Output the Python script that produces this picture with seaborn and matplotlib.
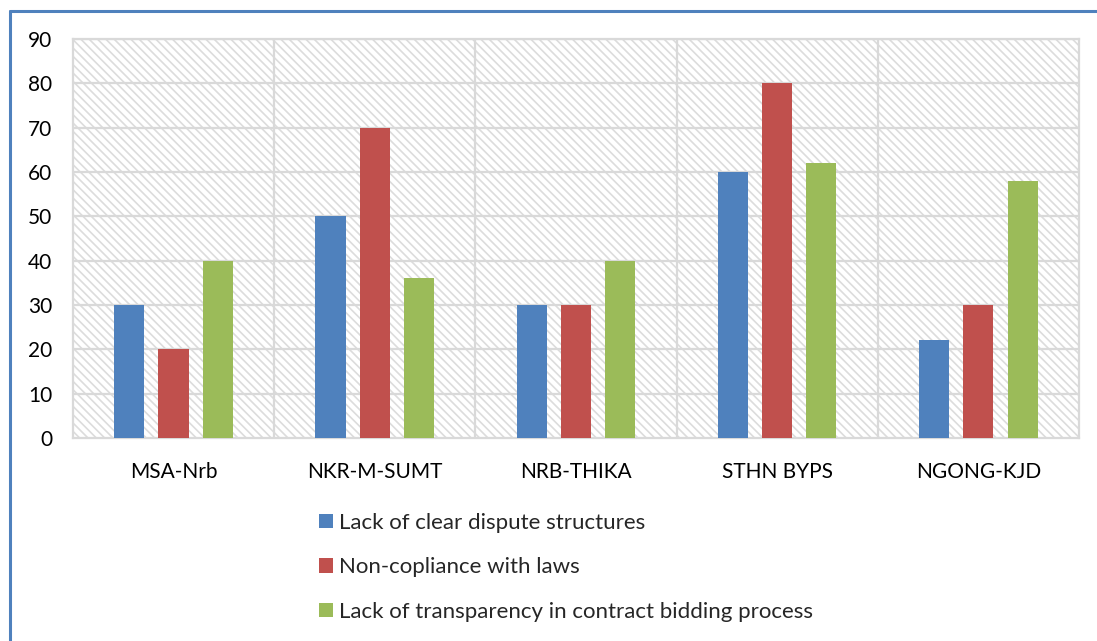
import matplotlib
matplotlib.use("Agg")
import matplotlib.pyplot as plt
from matplotlib.lines import Line2D
from matplotlib.patches import Rectangle
import seaborn as sns
import pandas as pd

routes = ["MSA-Nrb", "NKR-M-SUMT", "NRB-THIKA", "STHN BYPS", "NGONG-KJD"]
dispute_structures = [30, 50, 30, 60, 22]
non_compliance = [20, 70, 30, 80, 30]
bidding_transparency = [40, 36, 40, 62, 58]
series_names = [
    "Lack of clear dispute structures",
    "Non-copliance with laws",
    "Lack of transparency in contract bidding process",
]
colors = ["#4f81bd", "#c0504d", "#9bbb59"]
y_ticks = [0, 10, 20, 30, 40, 50, 60, 70, 80, 90]

rows = []
for name, vals in zip(series_names, [dispute_structures, non_compliance, bidding_transparency]):
    for r, v in zip(routes, vals):
        rows.append({"route": r, "series": name, "value": v})
df = pd.DataFrame(rows)

sns.set_theme(style="white")
plt.rcParams["font.family"] = ["Lato", "DejaVu Sans"]
plt.rcParams["hatch.color"] = "#dcdcdc"
plt.rcParams["hatch.linewidth"] = 1.2

fig = plt.figure(figsize=(10.97, 6.41), dpi=100)
ax = fig.add_axes([0.0665, 0.3167, 0.917, 0.6225])

# hatched plot-area background
ax.add_patch(Rectangle((0, 0), 1, 1, transform=ax.transAxes, facecolor="white",
                       edgecolor="#dcdcdc", hatch="\\\\\\\\", linewidth=0, zorder=0))

sns.barplot(data=df, x="route", y="value", hue="series", order=routes,
            hue_order=series_names, palette=colors, width=0.66, gap=0.32,
            saturation=1, edgecolor="none", ax=ax, zorder=3, legend=True)

ax.set_xlim(-0.5, len(routes) - 0.5)
ax.set_ylim(0, 90)
ax.set_yticks(y_ticks)
ax.set_yticklabels([str(t) for t in y_ticks], fontsize=15, color="#000000")
ax.tick_params(axis="x", labelsize=15, pad=17, length=0, colors="#000000")
ax.tick_params(axis="y", pad=15, length=0)
ax.set_xlabel("")
ax.set_ylabel("")

for y in y_ticks[1:]:
    ax.axhline(y, color="#d9d9d9", linewidth=1.6, zorder=1)
for x in range(len(routes) - 1):
    ax.axvline(x + 0.5, color="#d9d9d9", linewidth=1.6, zorder=1)
for s in ax.spines.values():
    s.set_color("#d9d9d9")
    s.set_linewidth(1.6)

handles, labels = ax.get_legend_handles_labels()
ax.legend(handles, labels, loc="upper left", bbox_to_anchor=(0.2355, -0.165),
          frameon=False, fontsize=16, handlelength=0.62, handleheight=0.62,
          handletextpad=0.3, labelspacing=1.1, borderaxespad=0)

# outer frame lines
fig.add_artist(Line2D([9.5 / 1097, 9.5 / 1097], [0, 1 - 11 / 641], color="#4f81bd",
                      linewidth=2.2, transform=fig.transFigure))
fig.add_artist(Line2D([9.5 / 1097, 1], [1 - 11 / 641, 1 - 11 / 641], color="#4f81bd",
                      linewidth=2.2, transform=fig.transFigure))

fig.savefig("out.png", dpi=100)
